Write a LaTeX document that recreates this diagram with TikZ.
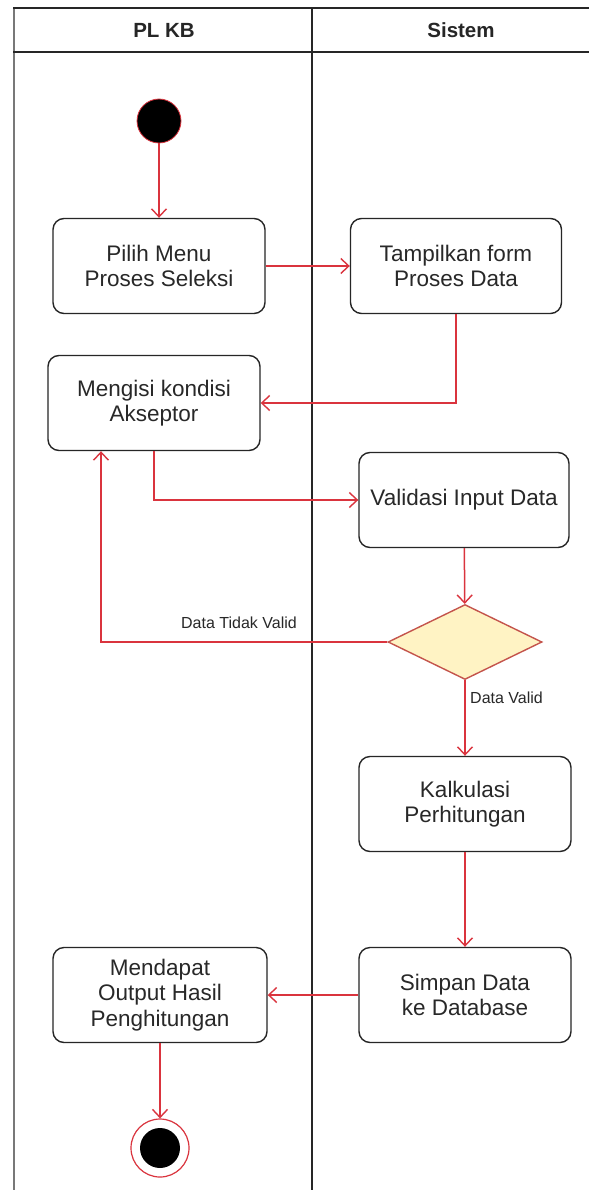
\documentclass[tikz,border=0pt]{standalone}
\usepackage{fontspec}
\setmainfont{Liberation Sans}
\usetikzlibrary{shapes.geometric,arrows.meta,calc}
\definecolor{flow}{RGB}{218,52,62}
\definecolor{decfill}{RGB}{255,243,196}
\definecolor{decdraw}{RGB}{196,84,76}
\definecolor{lanegray}{RGB}{120,120,120}
\definecolor{txt}{RGB}{40,40,40}
\begin{document}
\begin{tikzpicture}[x=1pt,y=-1pt,
  act/.style={draw=black!85, line width=1.4pt, rounded corners=11pt, fill=white,
    minimum width=212pt, minimum height=95pt, inner sep=0pt, align=center,
    text=txt, font=\fontsize{22.5}{25.5}\selectfont},
  flowline/.style={draw=flow, line width=1.5pt, -{Straight Barb[length=8pt,width=15pt,line width=1.4pt]}},
  lbl/.style={text=txt, font=\fontsize{16}{18}\selectfont, inner sep=0pt},
  lanehead/.style={font=\bfseries\fontsize{20.5}{23}\selectfont, text=black!85}
]
\useasboundingbox (0,0) rectangle (589,1190);
\fill[white] (0,0) rectangle (589,1190);

% swimlanes
\draw[lanegray, line width=2.6pt] (14,8) -- (14,1190);
\draw[black!85, line width=1.3pt] (312,8) -- (312,1190);
\draw[black!85, line width=2pt] (13,8) -- (589,8);
\draw[black!85, line width=2pt] (13,52) -- (589,52);
\node[lanehead] (laneA) at (164,30) {PL KB};
\node[lanehead] (laneB) at (461,30) {Sistem};

% activity nodes
\node[circle, fill=black, draw=flow, line width=0.8pt, minimum size=44pt, inner sep=0pt] (start) at (159,121) {};
\node[act] (b1) at (159,266) {Pilih Menu\\Proses Seleksi};
\node[act, minimum width=211pt] (b2) at (456,266) {Tampilkan form\\Proses Data};
\node[act] (b3) at (154,403) {Mengisi kondisi\\Akseptor};
\node[act, minimum width=210pt] (b4) at (464,500) {Validasi Input Data};
\node[diamond, draw=decdraw, fill=decfill, line width=1.4pt, minimum width=154pt, minimum height=75pt, inner sep=0pt] (dec) at (465,642) {};
\node[act] (b5) at (465,804) {Kalkulasi\\Perhitungan};
\node[act] (b6) at (465,995) {Simpan Data\\ke Database};
\node[act, minimum width=214pt] (b7) at (160,995) {Mendapat\\Output Hasil\\Penghitungan};
\node[circle, draw=flow, line width=1.2pt, fill=white, minimum size=58pt, inner sep=0pt] (end) at (160,1148) {};
\node[circle, fill=black, minimum size=40pt, inner sep=0pt] (endcore) at (end.center) {};

% return point on the lower edge of the input box
\coordinate (b3back) at ([xshift=-53pt]b3.south);

% connectors
\draw[flowline] (start) -- (b1);
\draw[flowline] (b1) -- (b2);
\draw[flowline] (b2.south) |- (b3.east);
\draw[flowline] (b3.south) |- (b4.west);
\draw[flowline] (b4) -- (dec);
\draw[flowline] (dec.west) -| (b3back);
\draw[flowline] (dec) -- (b5);
\draw[flowline] (b5) -- (b6);
\draw[flowline] (b6) -- (b7);
\draw[flowline] (b7) -- (end);

% guard labels
\node[lbl, anchor=east] (lnotvalid) at (297,623) {Data Tidak Valid};
\node[lbl, anchor=west] (lvalid) at (470,698) {Data Valid};
\end{tikzpicture}
\end{document}
